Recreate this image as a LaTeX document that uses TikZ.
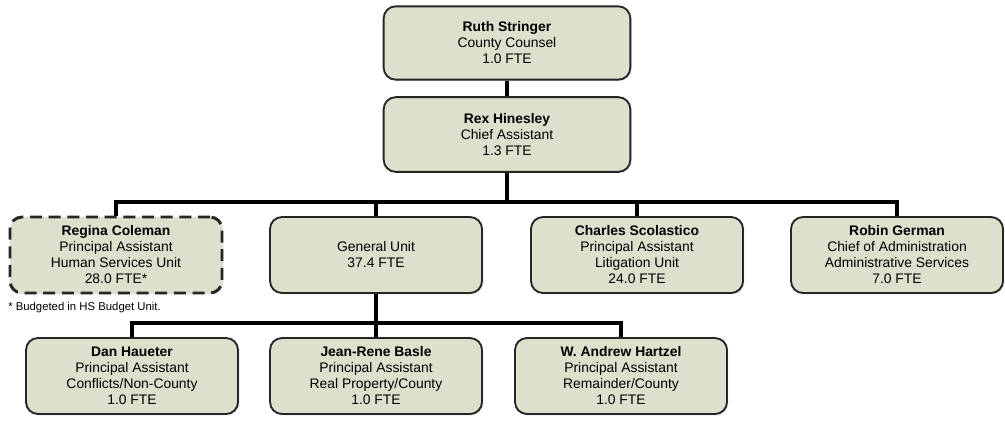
\documentclass[tikz,border=0pt]{standalone}
\usepackage{fontspec}
\setmainfont{Liberation Sans}
\usetikzlibrary{shadows}
\definecolor{boxfill}{RGB}{221,224,204}
\begin{document}
\begin{tikzpicture}[x=0.75pt,y=-0.75pt]
\useasboundingbox (0,0) rectangle (1005,424);
 \tikzstyle{box}=[rectangle,rounded corners=9pt,draw=black!85,line width=1.4pt,fill=boxfill,align=center,minimum width=159pt,minimum height=57pt,inner sep=2pt,font=\fontsize{10.4}{12}\selectfont,drop shadow={shadow xshift=1pt,shadow yshift=-1pt,opacity=0.25}]
 \tikzstyle{bus}=[line width=2.4pt,black]
    \node (ruth)[box,minimum width=185pt,minimum height=55pt] at (507,43) {\textbf{Ruth Stringer}\\County Counsel\\1.0 FTE};
    \node (rex)[box,minimum width=185pt,minimum height=56pt] at (507,134.5) {\textbf{Rex Hinesley}\\Chief Assistant\\1.3 FTE};
    \node (regina)[box,dashed,line width=2.2pt,dash pattern=on 9pt off 5pt] at (116,255) {\textbf{Regina Coleman}\\Principal Assistant\\Human Services Unit\\28.0 FTE*};
    \node (general)[box] at (376,255) {General Unit\\37.4 FTE};
    \node (charles)[box] at (637,255) {\textbf{Charles Scolastico}\\Principal Assistant\\Litigation Unit\\24.0 FTE};
    \node (robin)[box] at (897,255) {\textbf{Robin German}\\Chief of Administration\\Administrative Services\\7.0 FTE};
    \node (note)[anchor=west,font=\fontsize{8.5}{10}\selectfont,inner sep=0pt] at (8,308) {* Budgeted in HS Budget Unit.};
    \node (dan)[box] at (132,376) {\textbf{Dan Haueter}\\Principal Assistant\\Conflicts/Non-County\\1.0 FTE};
    \node (jeanrene)[box] at (376,376) {\textbf{Jean-Rene Basle}\\Principal Assistant\\Real Property/County\\1.0 FTE};
    \node (andrew)[box] at (621,376) {\textbf{W. Andrew Hartzel}\\Principal Assistant\\Remainder/County\\1.0 FTE};
    \coordinate (top) at (507,202);
    \coordinate (low) at (376,323);
    \draw[bus] (ruth.south) -- (rex.north);
    \draw[bus] (rex.south) -- (top);
    \draw[bus] (regina.north) -- (regina.north |- top) -- (robin.north |- top) -- (robin.north);
    \draw[bus] (general.north) -- (general.north |- top);
    \draw[bus] (charles.north) -- (charles.north |- top);
    \draw[bus] (general.south) -- (jeanrene.north);
    \draw[bus] (dan.north) -- (dan.north |- low) -- (andrew.north |- low) -- (andrew.north);
\end{tikzpicture}
\end{document}
